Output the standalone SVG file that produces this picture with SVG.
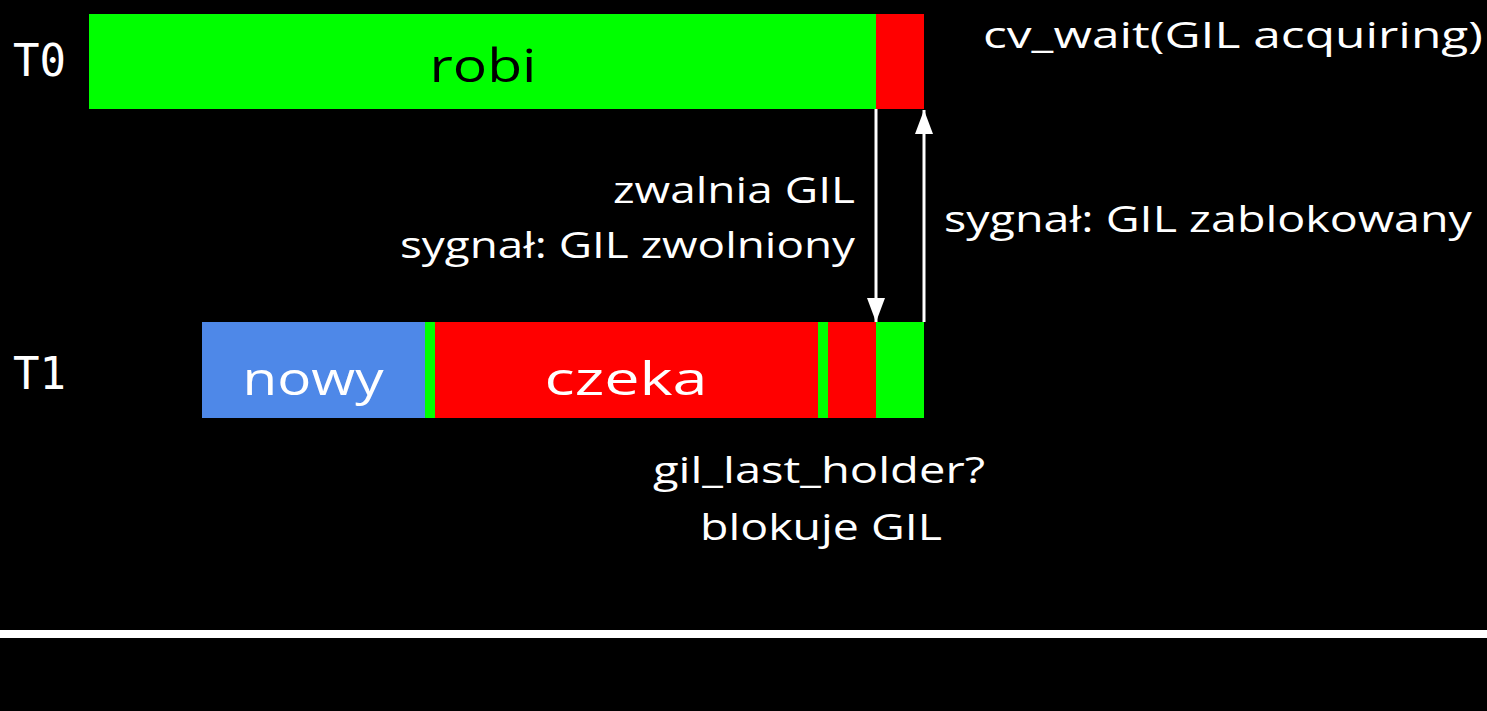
<svg xmlns="http://www.w3.org/2000/svg" width="1487" height="711" viewBox="0 0 1487 711">
<defs>
<style>
.lbl{font-family:"Open Sans","Liberation Sans",sans-serif;font-size:36px;fill:#fff}
.bar{font-family:"Open Sans","Liberation Sans",sans-serif;font-size:46px}
.th{font-family:"DejaVu Sans Mono","Liberation Mono",monospace;font-size:44px;fill:#fff}
.arr{stroke:#fff;stroke-width:3;fill:none}
</style>
<marker id="ah" viewBox="0 0 24 18" refX="24" refY="9" markerWidth="24" markerHeight="18" markerUnits="userSpaceOnUse" orient="auto">
<path d="M0,0 L24,9 L0,18 Z" fill="#fff"/>
</marker>
</defs>
<rect x="0" y="0" width="1487" height="711" fill="#000"/>
<rect x="0" y="630" width="1487" height="8" fill="#fff"/>

<g id="T0">
<text class="th" x="13" y="76">T0</text>
<rect x="89" y="14" width="787" height="95" fill="#00ff00"/>
<rect x="876" y="14" width="48" height="95" fill="#ff0000"/>
<text class="bar" x="483" y="82" text-anchor="middle" fill="#000" textLength="107" lengthAdjust="spacingAndGlyphs">robi</text>
</g>

<g id="T1">
<text class="th" x="13" y="389">T1</text>
<rect x="202" y="322" width="223" height="96" fill="#4e88e8"/>
<rect x="425" y="322" width="10" height="96" fill="#00ff00"/>
<rect x="435" y="322" width="383" height="96" fill="#ff0000"/>
<rect x="818" y="322" width="10" height="96" fill="#00ff00"/>
<rect x="828" y="322" width="48" height="96" fill="#ff0000"/>
<rect x="876" y="322" width="48" height="96" fill="#00ff00"/>
<text class="bar" x="313" y="395" text-anchor="middle" fill="#fff" textLength="141" lengthAdjust="spacingAndGlyphs">nowy</text>
<text class="bar" x="626" y="395" text-anchor="middle" fill="#fff" textLength="163" lengthAdjust="spacingAndGlyphs">czeka</text>
</g>

<g id="connectors">
<line class="arr" x1="876" y1="109" x2="876" y2="322" marker-end="url(#ah)"/>
<line class="arr" x1="924" y1="322" x2="924" y2="110" marker-end="url(#ah)"/>
</g>

<g id="labels">
<text class="lbl" x="983" y="48" textLength="500" lengthAdjust="spacingAndGlyphs">cv_wait(GIL acquiring)</text>
<text class="lbl" x="613" y="203" textLength="242" lengthAdjust="spacingAndGlyphs">zwalnia GIL</text>
<text class="lbl" x="400" y="258" textLength="455" lengthAdjust="spacingAndGlyphs">sygnał: GIL zwolniony</text>
<text class="lbl" x="944" y="232" textLength="528" lengthAdjust="spacingAndGlyphs">sygnał: GIL zablokowany</text>
<text class="lbl" x="653" y="483" textLength="332" lengthAdjust="spacingAndGlyphs">gil_last_holder?</text>
<text class="lbl" x="700" y="540" textLength="242" lengthAdjust="spacingAndGlyphs">blokuje GIL</text>
</g>
</svg>
